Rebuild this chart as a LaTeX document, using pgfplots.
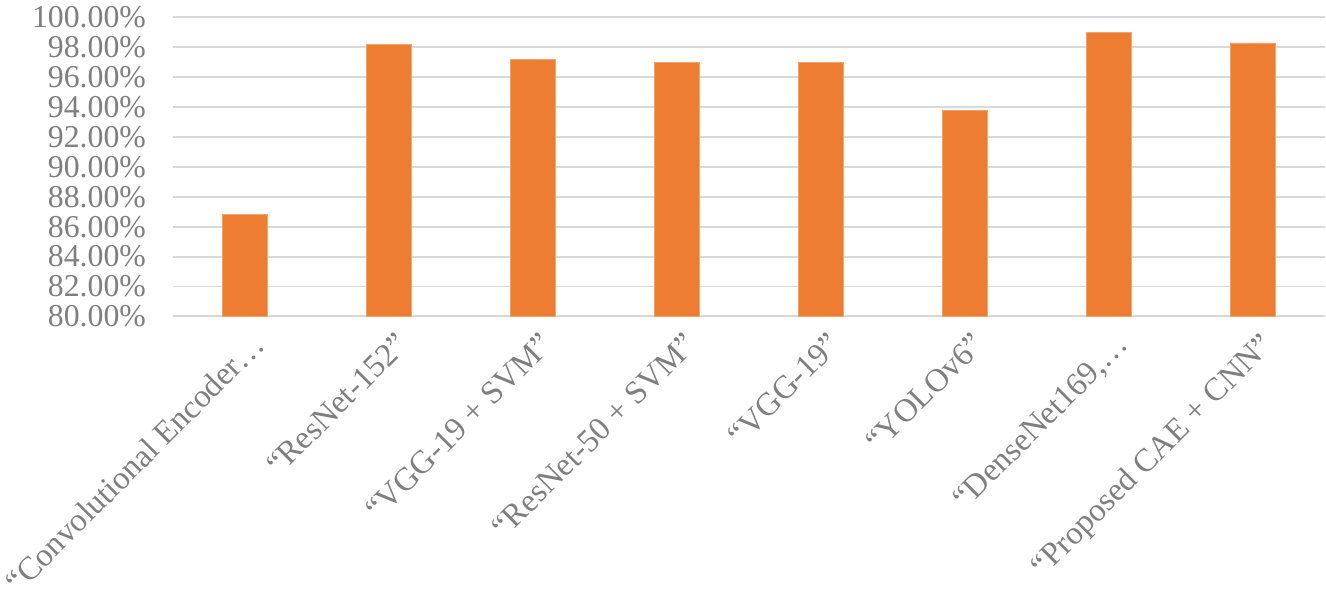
\documentclass[border=0pt]{standalone}
\usepackage{pgfplots}
\pgfplotsset{compat=1.18}
\usepackage{fontspec}
\setmainfont{Liberation Serif}

\definecolor{barorange}{HTML}{ED7D31}
\definecolor{gridgray}{HTML}{D9D9D9}
\definecolor{labelgray}{HTML}{7F7F7F}

\begin{document}
\begin{tikzpicture}
\begin{axis}[
    scale only axis,
    width=580pt, height=150.5pt,
    ybar, bar width=22.8pt,
    xmin=-0.5, xmax=7.5,
    ymin=80, ymax=100,
    ytick={80,82,...,100},
    xtick=data,
    xticklabels={
        {“Convolutional Encoder…},
        {“ResNet-152”},
        {“VGG-19 + SVM”},
        {“ResNet-50 + SVM”},
        {“VGG-19”},
        {“YOLOv6”},
        {“DenseNet169,…},
        {“Proposed CAE + CNN”}},
    xticklabel style={rotate=45, anchor=north east, font=\fontsize{16.4}{16.4}\selectfont, text=labelgray, inner sep=1pt, yshift=-6pt, xshift=-2pt},
    yticklabel={\pgfmathprintnumber[fixed, fixed zerofill, precision=2]{\tick}\%},
    yticklabel style={font=\fontsize{16}{16}\selectfont, text=labelgray, xshift=-10pt},
    /pgf/number format/assume math mode=true,
    ymajorgrids,
    grid style={gridgray, line width=1pt},
    axis line style={draw=none},
    major tick length=0pt,
    tick style={draw=none},
]
\addplot[fill=barorange, draw=barorange!70!white, line width=0.3pt] coordinates {
    (0,86.8) (1,98.2) (2,97.2) (3,97.0) (4,97.0) (5,93.8) (6,99.0) (7,98.3)
};
\end{axis}
\end{tikzpicture}
\end{document}
